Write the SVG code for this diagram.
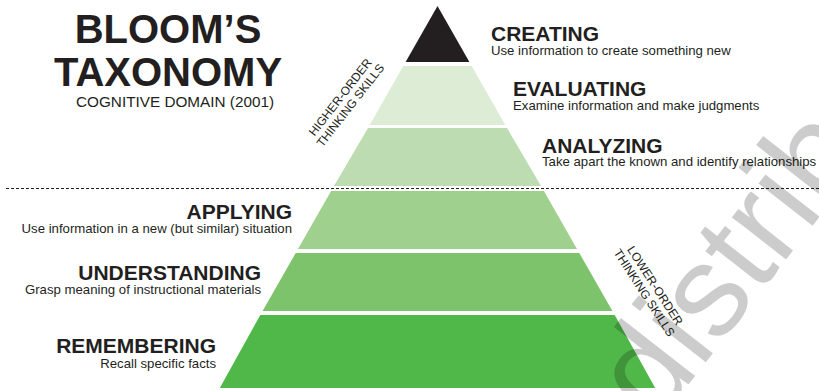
<svg xmlns="http://www.w3.org/2000/svg" width="819" height="391" viewBox="0 0 819 391">
<style>
  text { font-family: "Liberation Sans", Arial, sans-serif; fill: #231f20; }
  .title { font-size: 40px; font-weight: bold; text-anchor: middle; }
  .sub { font-size: 15.3px; }
  .head { font-size: 21px; font-weight: bold; }
  .desc { font-size: 13.2px; }
  .rot { font-size: 12px; text-anchor: middle; }
  .r { text-anchor: end; }
  .wm { font-size: 130px; fill: #000; fill-opacity: 0.2; }
</style>
<rect width="819" height="391" fill="#ffffff"/>
<g id="title">
  <text class="title" x="168" y="43">BLOOM’S</text>
  <text class="title" x="168" y="86">TAXONOMY</text>
  <text class="sub" x="76" y="107">COGNITIVE DOMAIN (2001)</text>
</g>
<g id="creating">
  <polygon points="437.5,6 469.4,62 405.6,62" fill="#231f20"/>
  <text class="head" x="491" y="41">CREATING</text>
  <text class="desc" x="491" y="55">Use information to create something new</text>
</g>
<g id="evaluating">
  <polygon points="403.3,66 471.7,66 505.3,125 369.7,125" fill="#dcecd5"/>
  <text class="head" x="513" y="96">EVALUATING</text>
  <text class="desc" x="513" y="110">Examine information and make judgments</text>
</g>
<g id="analyzing">
  <polygon points="368,128 507,128 541,186 334,186" fill="#bddcb1"/>
  <text class="head" x="542" y="153">ANALYZING</text>
  <text class="desc" x="542" y="166">Take apart the known and identify relationships</text>
</g>
<g id="applying">
  <polygon points="331.1,191 543.9,191 577,249 298,249" fill="#a0d08d"/>
  <text class="head r" x="292" y="219">APPLYING</text>
  <text class="desc r" x="292" y="233">Use information in a new (but similar) situation</text>
</g>
<g id="understanding">
  <polygon points="295.7,253 579.3,253 612.4,311 262.6,311" fill="#7dc36b"/>
  <text class="head r" x="261" y="280">UNDERSTANDING</text>
  <text class="desc r" x="261" y="294">Grasp meaning of instructional materials</text>
</g>
<g id="remembering">
  <polygon points="260.3,315 614.7,315 655.2,388 219.8,388" fill="#50b848"/>
  <text class="head r" x="216" y="353">REMEMBERING</text>
  <text class="desc r" x="216" y="368">Recall specific facts</text>
</g>
<g id="connectors">
  <line x1="6" y1="188.5" x2="819" y2="188.5" stroke="#231f20" stroke-width="1" stroke-dasharray="3,2"/>
</g>
<g id="higher-order" transform="translate(345,101) rotate(-52)">
  <text class="rot" x="0" y="-2">HIGHER-ORDER</text>
  <text class="rot" x="0" y="11">THINKING SKILLS</text>
</g>
<g id="lower-order" transform="translate(650,289) rotate(57)">
  <text class="rot" x="0" y="-2">LOWER-ORDER</text>
  <text class="rot" x="0" y="11">THINKING SKILLS</text>
</g>
<g id="watermark">
  <text class="wm" transform="translate(656,426) rotate(-52)">distrib</text>
</g>
</svg>
